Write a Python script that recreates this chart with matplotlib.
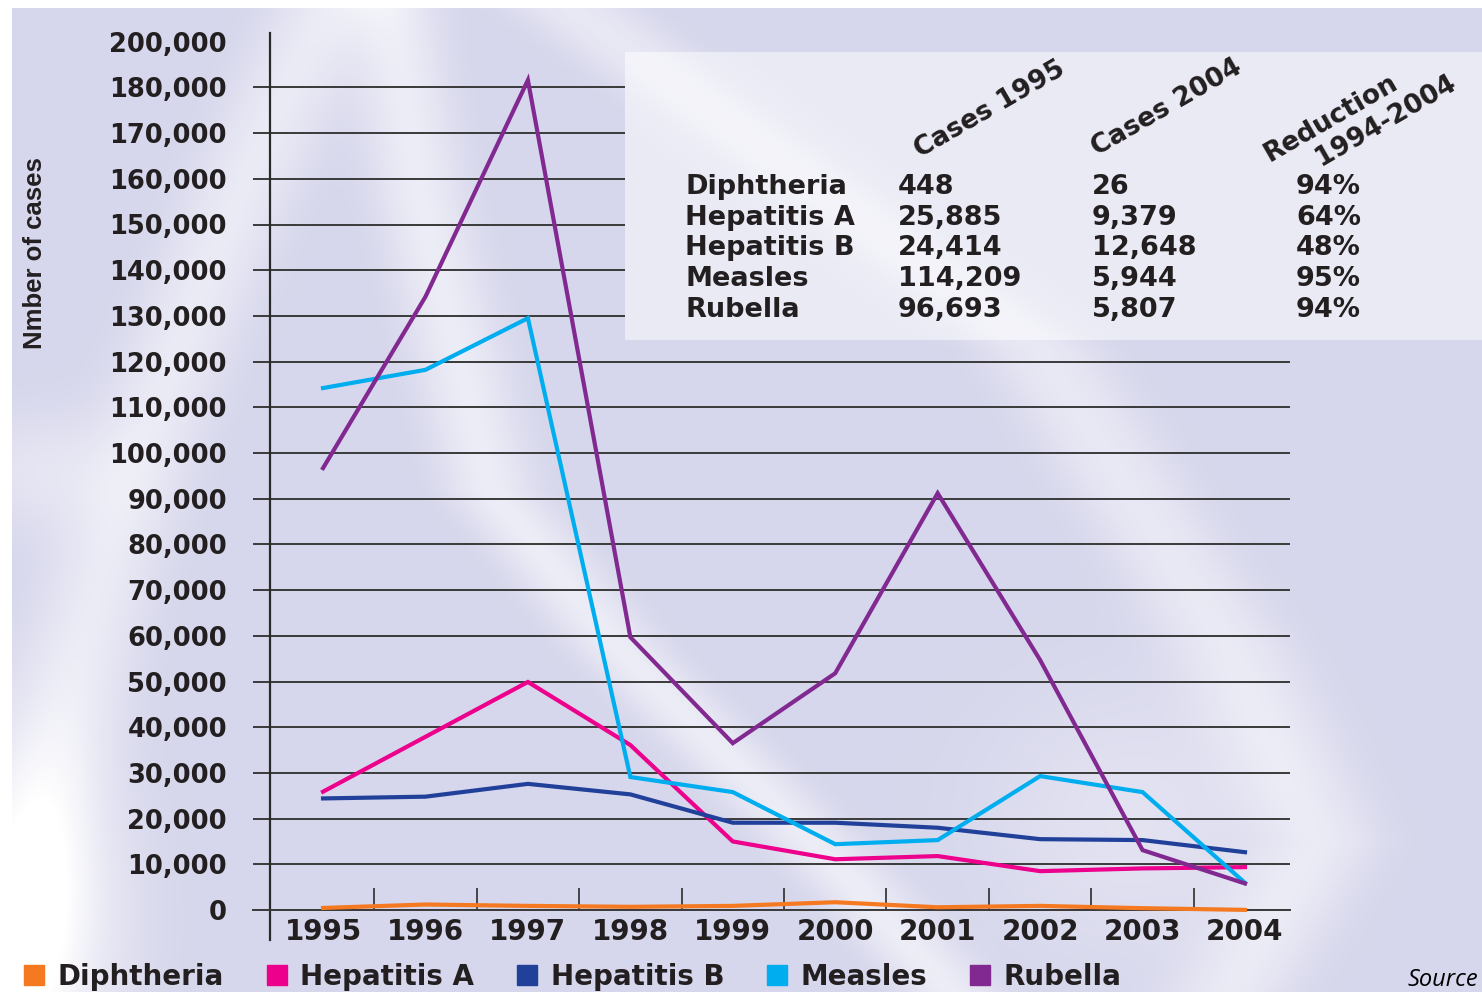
import numpy as np
import matplotlib.pyplot as plt
from matplotlib.lines import Line2D

W, H = 1482, 992

# Vaccine preventable disease cases, 1995-2004
years = np.arange(1995, 2005)
diphtheria = [448, 1200, 900, 700, 900, 1700, 600, 900, 400, 26]
hepatitis_a = [25885, 37900, 49900, 36100, 15000, 11100, 11800, 8500, 9100, 9379]
hepatitis_b = [24414, 24800, 27600, 25300, 19100, 19100, 18000, 15500, 15300, 12648]
measles = [114209, 118200, 129500, 29100, 25800, 14400, 15300, 29300, 25800, 5944]
rubella = [96693, 134200, 181600, 59700, 36500, 51800, 91200, 54700, 13100, 5807]

series_names = ["Diphtheria", "Hepatitis A", "Hepatitis B", "Measles", "Rubella"]
series_values = [diphtheria, hepatitis_a, hepatitis_b, measles, rubella]
series_colors = ["#f47920", "#ec008c", "#21409a", "#00aeef", "#812990"]

y_ticks = np.arange(0, 200000, 10000)
y_tick_labels = [f"{v:,}" for v in y_ticks[:-1]] + ["200,000"]

# summary table
table_headers = ["Cases 1995", "Cases 2004", "Reduction\n1994-2004"]
cases_1995 = ["448", "25,885", "24,414", "114,209", "96,693"]
cases_2004 = ["26", "9,379", "12,648", "5,944", "5,807"]
reduction = ["94%", "64%", "48%", "95%", "94%"]

DARK = "#231f20"
GRID = "#3a3a3a"
BOLD = dict(family="DejaVu Sans", weight="bold", color=DARK)


def fx(x):
    return x / W


def fy(y):
    return 1 - y / H


fig = plt.figure(figsize=(W / 100, H / 100), dpi=100)

# background with soft white swooshes
yy, xx = np.mgrid[0:H, 0:W].astype(float)
glow = np.zeros((H, W))
xa = 330 - 0.5 * yy + 0.00018 * yy ** 2
glow += 0.5 * np.exp(-((xx - xa) / 55) ** 2)
glow += 0.85 * np.exp(-((xx - 30) / 90) ** 2 - ((yy - 920) / 170) ** 2)
glow += 0.35 * np.exp(-((xx - 40) / 80) ** 2 - ((yy - 470) / 60) ** 2)
xb = np.interp(yy, [0, 200, 490, 650, 880, 992], [390, 420, 490, 620, 850, 950])
glow += 0.55 * np.exp(-((xx - xb) / 45) ** 2)
xd = np.interp(yy, [0, 350, 650, 840, 992], [560, 1040, 1230, 1320, 1230])
glow += 0.45 * np.exp(-((xx - xd) / 60) ** 2)
glow += 0.3 * np.exp(-((xx - 1130) / 150) ** 2 - ((yy - 820) / 140) ** 2)
glow = np.clip(glow, 0, 1)[..., None]
base = np.array([214, 214, 236]) / 255
img = base * (1 - glow) + glow
img[:8, :] = 1
img[:, :12] = 1

bg = fig.add_axes([0, 0, 1, 1], zorder=-1)
bg.imshow(img, extent=(0, W, H, 0), aspect="auto", interpolation="bilinear")
bg.set_axis_off()

# main chart area: value 0 sits on the bottom edge
x_left = 1995 - 70 / 102.4
x_right = 2004 + 45 / 102.4
y_top = (910 - 33) / 45.7 * 10000
ax = fig.add_axes([fx(253), fy(910), (1290 - 253) / W, (910 - 33) / H])
ax.set_facecolor("none")
ax.set_xlim(x_left, x_right)
ax.set_ylim(0, y_top)

for side in ["top", "right"]:
    ax.spines[side].set_visible(False)
ax.spines["left"].set_position(("data", 1995 - 53 / 102.4))
ax.spines["left"].set_bounds(-30 / 45.7 * 10000, y_top)
ax.spines["left"].set_color("#2a2a2a")
ax.spines["left"].set_linewidth(1.6)
ax.spines["bottom"].set_color(GRID)
ax.spines["bottom"].set_linewidth(1.4)

for vals, color in zip(series_values, series_colors):
    ax.plot(years, vals, color=color, lw=3.0, solid_joinstyle="miter",
            clip_on=False, zorder=3)

ax.set_yticks(y_ticks)
ax.set_yticklabels(y_tick_labels, fontsize=18.5, **BOLD)
ax.tick_params(axis="y", length=0, pad=31)
ax.yaxis.grid(True, color=GRID, lw=1.4)
ax.get_ygridlines()[-1].set_visible(False)

ax.set_xticks(years)
ax.set_xticklabels([str(y) for y in years], fontsize=20, **BOLD)
ax.set_xticks(years[:-1] + 0.5, minor=True)
ax.tick_params(axis="x", which="major", length=0, pad=6)
ax.tick_params(axis="x", which="minor", direction="in", length=16, width=1.3,
               color=GRID)
ax.set_axisbelow(True)

fig.text(fx(35), fy(253), "Nmber of cases", rotation=90, ha="center",
         va="center", fontsize=18.5, weight="bold", color=DARK,
         family=["Liberation Sans Narrow", "Liberation Sans"])

# summary panel: a lighter copy of the background that hides the grid
px0, py0, py1 = 625, 52, 340
panel = fig.add_axes([fx(px0), fy(py1), (W - px0) / W, (py1 - py0) / H],
                     zorder=1)
panel.imshow(img[py0:py1, px0:] * 0.5 + 0.5, aspect="auto",
             interpolation="bilinear")
panel.set_axis_off()

header_pos = [[(990, 110)], [(1167, 108)], [(1331, 118), (1386, 121)]]
for text, spots in zip(table_headers, header_pos):
    for line, (hx, hy) in zip(text.split("\n"), spots):
        fig.text(fx(hx), fy(hy), line, rotation=30, ha="center",
                 va="center", fontsize=19, zorder=2, **BOLD)
col_x = [685, 898, 1092, 1296]
for i, name in enumerate(series_names):
    ry = fy(187 + i * 30.7)
    row = [name, cases_1995[i], cases_2004[i], reduction[i]]
    for cx, cell in zip(col_x, row):
        fig.text(fx(cx), ry, cell, ha="left", va="center", fontsize=19.5,
                 zorder=2, **BOLD)

handles = [Line2D([], [], marker="s", ls="", color=c, markersize=14)
           for c in series_colors]
leg = fig.legend(handles, series_names, loc="center left",
                 bbox_to_anchor=(fx(-5), fy(977)), ncol=5, frameon=False,
                 handletextpad=0.35, columnspacing=1.4, handlelength=1.0,
                 prop=dict(family="DejaVu Sans", weight="bold", size=20))
for t in leg.get_texts():
    t.set_color(DARK)

fig.text(fx(1408), fy(980), "Source", ha="left", va="center", fontsize=17,
         style="italic", family=["Open Sans", "DejaVu Sans"], color="black")

fig.savefig("out.png", dpi=100)
